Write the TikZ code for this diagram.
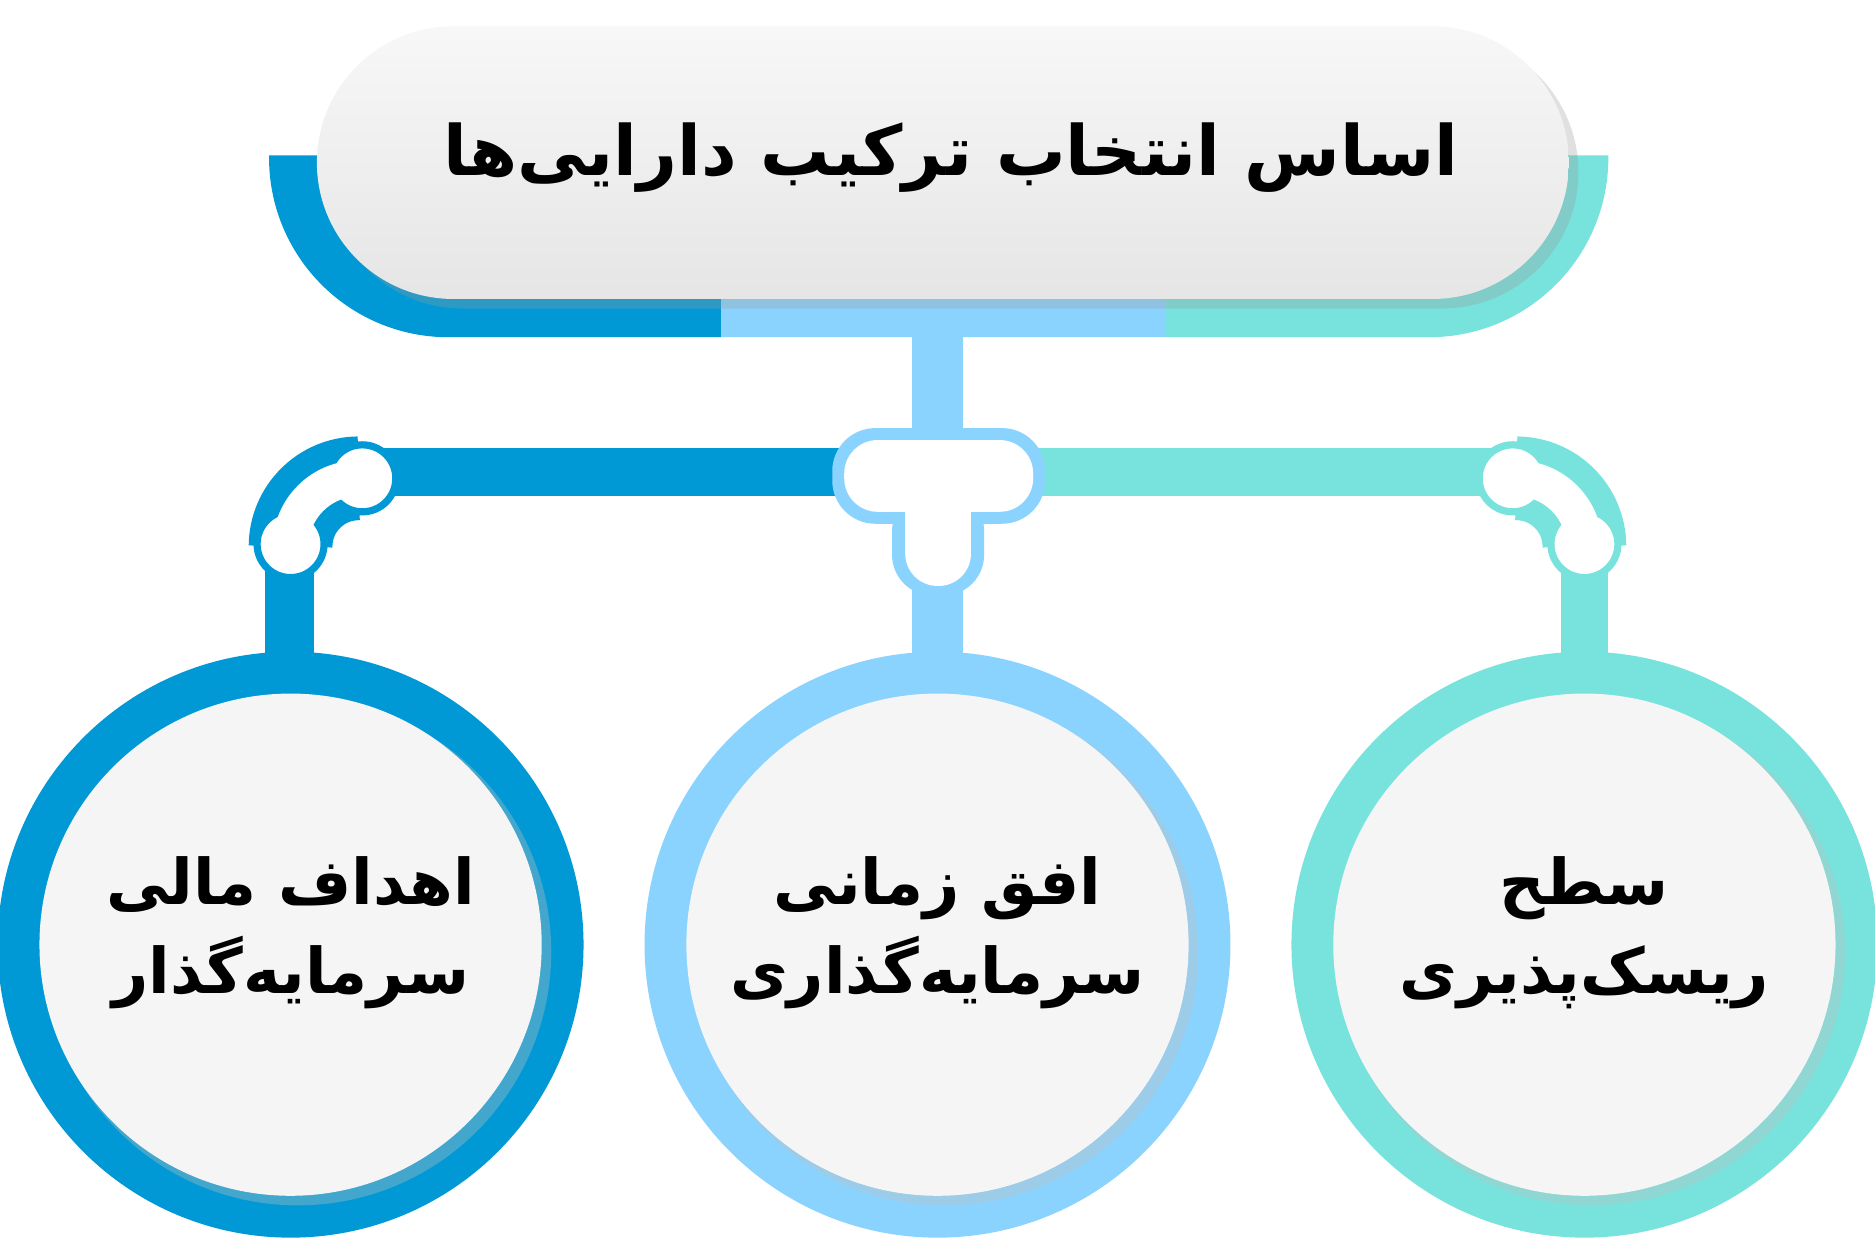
\documentclass[tikz,border=0pt]{standalone}
\usepackage{fontspec}
\newfontfamily\ar[Script=Arabic]{DejaVu Sans}
\TeXXeTstate=1
\definecolor{cA}{HTML}{0099D6}
\definecolor{cB}{HTML}{8BD3FF}
\definecolor{cC}{HTML}{78E3DD}
\newcommand{\pxl}{0.2845pt}
\tikzset{
 knob/.style={fill=white,draw=#1,line width=6*\pxl},
 lbl/.style={font=\ar\bfseries\fontsize{15}{21}\selectfont,align=center,text=black},
}
\begin{document}
\begin{tikzpicture}[x=0.01cm,y=-0.01cm]
\useasboundingbox (0,0) rectangle (1568,1045);
\fill[white] (0,0) rectangle (1568,1045);
% underlay
\begin{scope}
\clip (225,130) -- (225,132) arc[start angle=180,end angle=90,radius=150] -- (1195,282) arc[start angle=90,end angle=0,radius=150] -- (1345,130) -- cycle;
\fill[cA] (200,120) rectangle (603,300);
\fill[cB] (603,120) rectangle (975,300);
\fill[cC] (975,120) rectangle (1360,300);
\end{scope}
% stem and bars
\fill[cB] (763,270) rectangle (805,372);
\fill[cA] (300,375) rectangle (720,415);
\fill[cC] (850,375) rectangle (1270,415);
% vertical pipes
\fill[cA] (222,470) rectangle (263,560);
\fill[cB] (763,470) rectangle (805,560);
\fill[cC] (1305,470) rectangle (1345,560);
% elbows
\draw[cA,line width=70*\pxl] (300,400) arc[start angle=-90,end angle=-180,radius=57];
\node[knob=cA,circle,minimum size=56*\pxl,inner sep=0] (k1) at (303,400) {};
\node[knob=cA,circle,minimum size=56*\pxl,inner sep=0] (k2) at (243,455) {};
\draw[white,line width=30*\pxl] (300,400) arc[start angle=-90,end angle=-180,radius=57];
\draw[cC,line width=70*\pxl] (1268,400) arc[start angle=-90,end angle=0,radius=57];
\node[knob=cC,circle,minimum size=56*\pxl,inner sep=0] (k3) at (1265,400) {};
\node[knob=cC,circle,minimum size=56*\pxl,inner sep=0] (k4) at (1325,455) {};
\draw[white,line width=30*\pxl] (1268,400) arc[start angle=-90,end angle=0,radius=57];
% T joint
\fill[cB,rounded corners=36*\pxl] (696,358) rectangle (874,438);
\fill[cB,rounded corners=34*\pxl] (746,410) rectangle (823,498);
\fill[white,rounded corners=28*\pxl] (706,368) rectangle (864,428);
\fill[white,rounded corners=27*\pxl] (757,400) rectangle (812,490);
% circles
\foreach \cx/\c in {243/cA,784/cB,1325/cC}{
 \fill[\c] (\cx,790) circle[radius=245];
 \fill[black!25,opacity=.35] (\cx+6,796) circle[radius=212];
 \fill[white!96!black] (\cx,790) circle[radius=210];
}
% top pill
\fill[black!40,opacity=.3,rounded corners=114*\pxl] (273,30) rectangle (1320,258);
\shade[top color=white!97!black,bottom color=white!90!black,rounded corners=114*\pxl] (265,22) rectangle (1312,250);
\node[lbl,font=\ar\bfseries\fontsize{16.5}{22}\selectfont] (t) at (795,132) {\beginR اساس انتخاب ترکیب دارایی‌ها\endR};
\node[lbl] (a) at (243,780) {\beginR اهداف مالی\endR\\\beginR سرمایه‌گذار\endR};
\node[lbl] (b) at (784,780) {\beginR افق زمانی\endR\\\beginR سرمایه‌گذاری\endR};
\node[lbl] (c) at (1325,780) {\beginR سطح\endR\\\beginR ریسک‌پذیری\endR};
\end{tikzpicture}
\end{document}
